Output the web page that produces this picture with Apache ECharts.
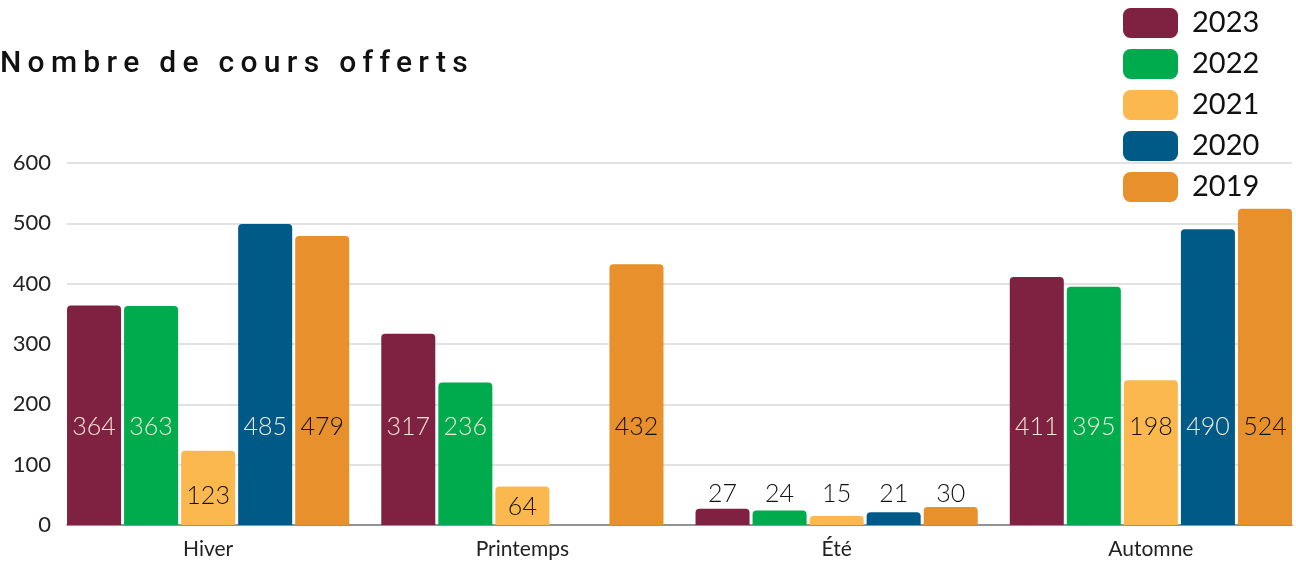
<!DOCTYPE html>
<html>
<head>
<meta charset="utf-8">
<title>Nombre de cours offerts</title>
<script src="https://cdn.jsdelivr.net/npm/echarts@6/dist/echarts.min.js"></script>
<style>
  html, body { margin: 0; padding: 0; background: #fff; overflow: hidden; }
  #wrap { position: relative; width: 1296px; height: 566px; overflow: hidden; }
  /* un peu plus large que la fenêtre : les barres d'Automne vont jusqu'au bord */
  #chart { width: 1308px; height: 566px; }
  #title {
    position: absolute; left: 0; top: 44px;
    font-family: Roboto, sans-serif; font-weight: 500; font-size: 30px;
    letter-spacing: 6.3px; color: #111; line-height: 36px; white-space: nowrap;
  }
</style>
</head>
<body>
<div id="wrap">
  <div id="chart"></div>
  <div id="title">Nombre de cours offerts</div>
</div>
<script>
const categories = ['Hiver', 'Printemps', 'Été', 'Automne']
const years = ['2023', '2022', '2021', '2020', '2019']

const values2023 = [364, 317, 27, 411]
const values2022 = [363, 236, 24, 395]
const values2021 = [123, 64, 15, 240]
const values2020 = [499, null, 21, 490]
const values2019 = [479, 432, 30, 524]

// étiquettes affichées (pas toujours égales à la barre)
const labels2023 = ['364', '317', '27', '411']
const labels2022 = ['363', '236', '24', '395']
const labels2021 = ['123', '64', '15', '198']
const labels2020 = ['485', '', '21', '490']
const labels2019 = ['479', '432', '30', '524']

const yTicks = [0, 100, 200, 300, 400, 500, 600]

const colors = ['#7f2241', '#00ab4e', '#fbb84f', '#005a87', '#e8902c']
const labelColors = ['#f3e9d6', '#f3e9d6', '#111111', '#f3e9d6', '#111111']
const FONT = 'Lato, sans-serif'

// distance de l'étiquette depuis la base de la barre
function labelDistance (v) {
  if (v >= 200) return 85
  if (v >= 100) return 16
  if (v >= 50) return 5
  return 18
}

const allValues = [values2023, values2022, values2021, values2020, values2019]
const allLabels = [labels2023, labels2022, labels2021, labels2020, labels2019]

const seriesData = years.map((year, i) => ({
  name: year,
  type: 'bar',
  xAxisIndex: 0,
  yAxisIndex: 0,
  barCategoryGap: '10.2%',
  barGap: '5.6%',
  itemStyle: { color: colors[i], borderRadius: [4, 4, 0, 0] },
  data: allValues[i].map((v, j) => {
    if (v == null) return null
    return {
      value: v,
      label: {
        show: true,
        position: 'insideBottom',
        distance: labelDistance(v),
        formatter: allLabels[i][j],
        color: v < 50 ? '#111111' : labelColors[i],
        fontFamily: FONT,
        fontWeight: 300,
        fontSize: 25,
        lineHeight: 26
      }
    }
  })
}))

const myChart = echarts.init(document.getElementById('chart'))
myChart.setOption({
  animation: false,
  color: colors,
  legend: {
    orient: 'vertical',
    left: 1123,
    top: 8,
    padding: 0,
    icon: 'roundRect',
    itemWidth: 55,
    itemHeight: 30,
    itemGap: 11,
    selectedMode: false,
    data: years,
    textStyle: {
      fontFamily: FONT,
      fontWeight: 400,
      fontSize: 29,
      lineHeight: 30,
      color: '#111',
      padding: [0, 0, 0, 9]
    }
  },
  grid: [
    { left: 51, right: 0, top: 163, bottom: 41 },
    { left: 67, right: 16, top: 163, bottom: 41 }
  ],
  xAxis: [
    {
      type: 'category',
      gridIndex: 0,
      data: categories,
      axisLine: { show: false },
      axisTick: { show: false },
      axisLabel: { color: '#222', fontFamily: FONT, fontSize: 21, margin: 14 }
    },
    {
      type: 'value',
      gridIndex: 1,
      min: 0,
      max: 1,
      axisLine: { show: true, lineStyle: { color: '#7a7a7a', width: 1.5 } },
      axisTick: { show: false },
      axisLabel: { show: false },
      splitLine: { show: false }
    }
  ],
  yAxis: [
    {
      type: 'value',
      gridIndex: 0,
      min: 0,
      max: 600,
      show: false
    },
    {
      type: 'value',
      gridIndex: 1,
      min: yTicks[0],
      max: yTicks[yTicks.length - 1],
      interval: yTicks[1] - yTicks[0],
      axisLine: { show: false },
      axisTick: { show: false },
      axisLabel: { color: '#222', fontFamily: FONT, fontSize: 22, margin: 16 },
      splitLine: { lineStyle: { color: '#d9d9d9', width: 1.5 } }
    }
  ],
  series: seriesData
})
</script>
</body>
</html>
